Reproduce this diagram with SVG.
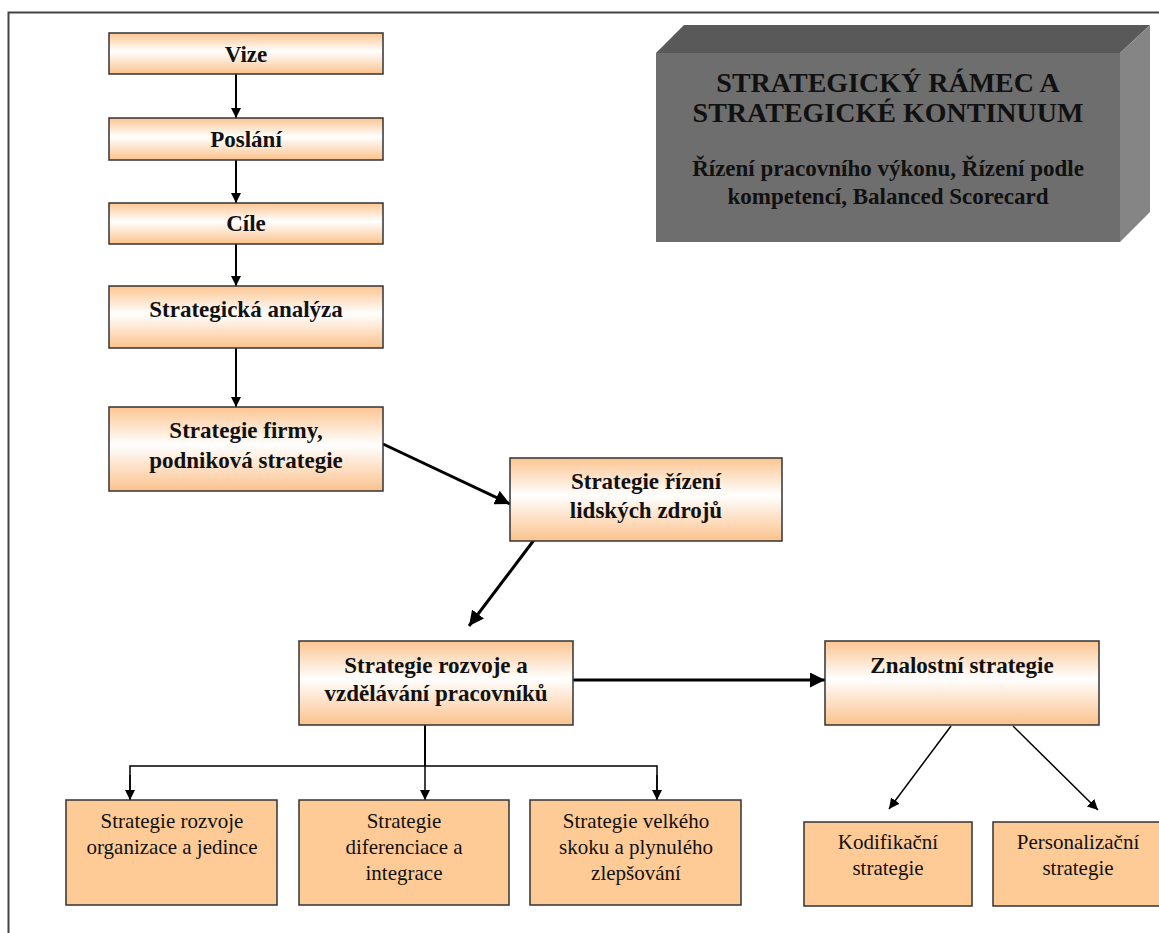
<svg xmlns="http://www.w3.org/2000/svg" width="1159" height="933" viewBox="0 0 1159 933">
  <defs>
    <linearGradient id="peach" x1="0" y1="0" x2="0" y2="1">
      <stop offset="0" stop-color="#fcc591"/>
      <stop offset="0.45" stop-color="#ffffff"/>
      <stop offset="1" stop-color="#fbc28c"/>
    </linearGradient>
    <marker id="ah" viewBox="0 0 10 10" refX="10" refY="5" markerWidth="5" markerHeight="5" orient="auto" markerUnits="strokeWidth">
      <path d="M0,0 L10,5 L0,10 z" fill="#000"/>
    </marker>
    <marker id="ahl" viewBox="0 0 10 10" refX="10" refY="5" markerWidth="7" markerHeight="7" orient="auto" markerUnits="strokeWidth">
      <path d="M0,0 L10,5 L0,10 z" fill="#000"/>
    </marker>
  </defs>
  <style>
    .grad { fill: url(#peach); stroke: #333; stroke-width: 1.5; }
    .flat { fill: #fecb97; stroke: #333; stroke-width: 1.5; }
    .tb { font-family: "Liberation Serif", "Times New Roman", serif; font-weight: bold; font-size: 23px; fill: #111; text-anchor: middle; }
    .tn { font-family: "Liberation Serif", "Times New Roman", serif; font-size: 21px; fill: #111; text-anchor: middle; }
    .title { font-family: "Liberation Serif", "Times New Roman", serif; font-weight: bold; font-size: 28px; fill: #111; text-anchor: middle; }
    .sub { font-family: "Liberation Serif", "Times New Roman", serif; font-weight: bold; font-size: 23px; fill: #111; text-anchor: middle; }
    .c { fill: none; stroke: #000; }
  </style>

  <rect width="1159" height="933" fill="#fff"/>
  <!-- page frame (top and left edges) -->
  <path d="M8.5,933 V12.5 H1159" fill="none" stroke="#444" stroke-width="2"/>

  <!-- 3D title block -->
  <g id="frame-block">
    <polygon points="656,53 684,25 1150,25 1120,53" fill="#595959"/>
    <polygon points="1120,53 1150,25 1150,212 1120,242" fill="#858585"/>
    <rect x="656" y="53" width="464" height="189" fill="#6e6e6e"/>
    <text class="title" x="888" y="92">STRATEGICKÝ RÁMEC A</text>
    <text class="title" x="888" y="122">STRATEGICKÉ KONTINUUM</text>
    <text class="sub" x="888" y="176">Řízení pracovního výkonu, Řízení podle</text>
    <text class="sub" x="888" y="204">kompetencí, Balanced Scorecard</text>
  </g>

  <!-- connectors -->
  <g id="connectors">
    <line class="c" x1="236" y1="74" x2="236" y2="118" stroke-width="2" marker-end="url(#ah)"/>
    <line class="c" x1="236" y1="160" x2="236" y2="203" stroke-width="2" marker-end="url(#ah)"/>
    <line class="c" x1="236" y1="244" x2="236" y2="286" stroke-width="2" marker-end="url(#ah)"/>
    <line class="c" x1="236" y1="348" x2="236" y2="407" stroke-width="2" marker-end="url(#ah)"/>
    <line class="c" x1="383" y1="444" x2="510" y2="504" stroke-width="3" marker-end="url(#ah)"/>
    <line class="c" x1="534" y1="540" x2="469" y2="626" stroke-width="3" marker-end="url(#ah)"/>
    <line class="c" x1="573" y1="680" x2="825" y2="680" stroke-width="3" marker-end="url(#ah)"/>
    <line class="c" x1="425" y1="725" x2="425" y2="766" stroke-width="2"/>
    <polyline class="c" points="130,800 130,766 657,766 657,800" stroke-width="1.5"/>
    <line class="c" x1="130" y1="775" x2="130" y2="800" stroke-width="1.5" marker-end="url(#ahl)"/>
    <line class="c" x1="425" y1="766" x2="425" y2="800" stroke-width="1.5" marker-end="url(#ahl)"/>
    <line class="c" x1="657" y1="775" x2="657" y2="800" stroke-width="1.5" marker-end="url(#ahl)"/>
    <line class="c" x1="951" y1="726" x2="889" y2="809" stroke-width="1.5" marker-end="url(#ahl)"/>
    <line class="c" x1="1013" y1="726" x2="1098" y2="810" stroke-width="1.5" marker-end="url(#ahl)"/>
  </g>

  <g id="vize">
    <rect class="grad" x="109" y="33" width="274" height="41"/>
    <text class="tb" x="246" y="62">Vize</text>
  </g>
  <g id="poslani">
    <rect class="grad" x="109" y="118" width="274" height="42"/>
    <text class="tb" x="246" y="147">Poslání</text>
  </g>
  <g id="cile">
    <rect class="grad" x="109" y="203" width="274" height="41"/>
    <text class="tb" x="246" y="231">Cíle</text>
  </g>
  <g id="strategicka-analyza">
    <rect class="grad" x="109" y="286" width="274" height="62"/>
    <text class="tb" x="246" y="317">Strategická analýza</text>
  </g>
  <g id="strategie-firmy">
    <rect class="grad" x="109" y="407" width="274" height="84"/>
    <text class="tb" x="246" y="438">Strategie firmy,</text>
    <text class="tb" x="246" y="468">podniková strategie</text>
  </g>
  <g id="strategie-rlz">
    <rect class="grad" x="510" y="458" width="272" height="83"/>
    <text class="tb" x="646" y="489">Strategie řízení</text>
    <text class="tb" x="646" y="518">lidských zdrojů</text>
  </g>
  <g id="strategie-rozvoje">
    <rect class="grad" x="299" y="641" width="274" height="84"/>
    <text class="tb" x="436" y="673">Strategie rozvoje a</text>
    <text class="tb" x="436" y="701">vzdělávání pracovníků</text>
  </g>
  <g id="znalostni-strategie">
    <rect class="grad" x="825" y="641" width="274" height="84"/>
    <text class="tb" x="962" y="673">Znalostní strategie</text>
  </g>
  <g id="rozvoj-organizace">
    <rect class="flat" x="66" y="800" width="211" height="105"/>
    <text class="tn" x="172" y="828">Strategie rozvoje</text>
    <text class="tn" x="172" y="854">organizace a jedince</text>
  </g>
  <g id="diferenciace">
    <rect class="flat" x="299" y="800" width="210" height="105"/>
    <text class="tn" x="404" y="828">Strategie</text>
    <text class="tn" x="404" y="854">diferenciace a</text>
    <text class="tn" x="404" y="880">integrace</text>
  </g>
  <g id="velky-skok">
    <rect class="flat" x="530" y="800" width="211" height="105"/>
    <text class="tn" x="636" y="828">Strategie velkého</text>
    <text class="tn" x="636" y="854">skoku a plynulého</text>
    <text class="tn" x="636" y="880">zlepšování</text>
  </g>
  <g id="kodifikacni">
    <rect class="flat" x="804" y="822" width="168" height="84"/>
    <text class="tn" x="888" y="849">Kodifikační</text>
    <text class="tn" x="888" y="875">strategie</text>
  </g>
  <g id="personalizacni">
    <rect class="flat" x="993" y="822" width="170" height="84"/>
    <text class="tn" x="1078" y="849">Personalizační</text>
    <text class="tn" x="1078" y="875">strategie</text>
  </g>
</svg>
